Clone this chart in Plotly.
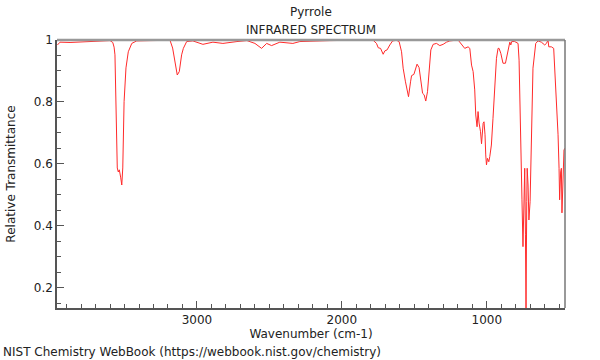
import plotly.graph_objects as go

wavenumber = [3963, 3945, 3876, 3772, 3669, 3600, 3581, 3572, 3566, 3559, 3550, 3543, 3536, 3526, 3519,
              3512, 3508, 3503, 3490, 3474, 3450, 3416, 3324, 3186, 3168, 3152, 3136, 3122, 3106, 3094,
              3071, 3028, 2959, 2890, 2821, 2724, 2655, 2600, 2554, 2519, 2485, 2428, 2338, 2290, 2200,
              2083, 1945, 1784, 1761, 1749, 1733, 1715, 1703, 1688, 1669, 1650, 1623, 1605, 1588, 1577,
              1561, 1540, 1526, 1519, 1503, 1492, 1481, 1467, 1455, 1443, 1432, 1421, 1409, 1398, 1386,
              1370, 1347, 1324, 1301, 1278, 1255, 1198, 1174, 1152, 1129, 1117, 1105, 1094, 1083, 1076,
              1067, 1060, 1053, 1043, 1036, 1030, 1025, 1019, 1012, 1007, 1002, 995, 986, 979, 968,
              957, 945, 933, 922, 915, 903, 888, 871, 853, 841, 834, 828, 807, 784, 777,
              770, 766, 757, 750, 743, 738, 733, 729, 724, 721, 715, 709, 701, 692, 681,
              662, 646, 623, 600, 588, 577, 572, 554, 538, 519, 508, 501, 497, 490, 485,
              481, 474, 467, 460]
transmittance = [0.984, 0.993, 0.992, 0.994, 0.995, 0.998, 0.992, 0.977, 0.952, 0.801, 0.587, 0.574, 0.581, 0.555, 0.532,
                 0.587, 0.694, 0.801, 0.910, 0.962, 0.989, 0.997, 0.998, 0.999, 0.974, 0.930, 0.887, 0.898, 0.952, 0.973,
                 0.995, 0.997, 0.986, 0.993, 0.989, 0.995, 0.998, 0.989, 0.973, 0.989, 0.982, 0.993, 0.989, 0.995, 0.997,
                 0.998, 0.999, 0.999, 0.989, 0.975, 0.973, 0.954, 0.965, 0.968, 0.984, 0.997, 0.999, 0.995, 0.962, 0.909,
                 0.865, 0.817, 0.865, 0.885, 0.889, 0.909, 0.922, 0.911, 0.871, 0.828, 0.823, 0.803, 0.833, 0.909, 0.968,
                 0.986, 0.989, 0.982, 0.986, 0.993, 0.997, 1.000, 0.984, 0.973, 0.978, 0.973, 0.919, 0.898, 0.839, 0.758,
                 0.720, 0.769, 0.732, 0.704, 0.665, 0.713, 0.731, 0.736, 0.694, 0.629, 0.597, 0.618, 0.607, 0.624, 0.661,
                 0.747, 0.855, 0.941, 0.973, 0.973, 0.957, 0.925, 0.925, 0.962, 0.993, 0.984, 0.995, 0.995, 0.989, 0.935,
                 0.806, 0.710, 0.484, 0.333, 0.478, 0.586, 0.371, 0.135, 0.478, 0.586, 0.532, 0.419, 0.478, 0.694, 0.909,
                 0.989, 0.997, 0.993, 0.984, 0.989, 1.000, 0.978, 0.978, 0.973, 0.801, 0.694, 0.586, 0.484, 0.574, 0.586,
                 0.442, 0.565, 0.645, 0.651]

x_range = [3966, 460]
y_range = [0.135, 1.0]
x_ticks = [3000, 2000, 1000]
y_ticks = [0.2, 0.4, 0.6, 0.8, 1.0]
y_ticklabels = ["0.2", "0.4", "0.6", "0.8", "1"]

FONT = "DejaVu Sans"

fig = go.Figure()
fig.add_trace(go.Scatter(x=wavenumber, y=transmittance, mode="lines",
                         line=dict(color="#ff2a2a", width=1), hoverinfo="skip"))

fig.update_layout(
    width=600, height=360,
    margin=dict(l=57, r=35, t=40, b=52),
    paper_bgcolor="white", plot_bgcolor="white",
    showlegend=False,
    font=dict(family=FONT, size=12, color="#222"),
    xaxis=dict(range=x_range, tickvals=x_ticks, ticks="inside", ticklen=7, tickcolor="#555",
               showline=True, linecolor="#555", linewidth=1.5, showgrid=False, zeroline=False,
               automargin=False,
               minor=dict(dtick=100, tick0=0, ticks="inside", ticklen=4, tickcolor="#555"),
               title=dict(text="Wavenumber (cm-1)", standoff=2, font=dict(size=12))),
    yaxis=dict(range=y_range, tickvals=y_ticks, ticktext=y_ticklabels, ticks="inside", ticklen=7,
               tickcolor="#555", showline=True, linecolor="#555", linewidth=1.5, showgrid=False,
               zeroline=False, automargin=False,
               minor=dict(dtick=0.05, tick0=0, ticks="inside", ticklen=4, tickcolor="#555"),
               title=dict(text="Relative Transmittance", standoff=16, font=dict(size=12))),
)

fig.add_shape(type="line", xref="paper", yref="paper", x0=0, x1=1, y0=1, y1=1,
              line=dict(color="#999", width=2.5))
fig.add_shape(type="line", xref="paper", yref="paper", x0=1, x1=1, y0=0, y1=1,
              line=dict(color="#777", width=1.5))

fig.add_annotation(text="Pyrrole", xref="paper", yref="paper", x=0.5, y=1, yshift=28,
                   showarrow=False, font=dict(size=12, family=FONT, color="#222"), yanchor="middle")
fig.add_annotation(text="INFRARED SPECTRUM", xref="paper", yref="paper", x=0.5, y=1, yshift=10,
                   showarrow=False, font=dict(size=12, family=FONT, color="#222"), yanchor="middle")
fig.add_annotation(text="NIST Chemistry WebBook (https://webbook.nist.gov/chemistry)",
                   xref="paper", yref="paper", x=0, xshift=-56, y=0, yshift=-44,
                   xanchor="left", yanchor="middle", showarrow=False,
                   font=dict(size=12, family=FONT, color="#222"))

fig.write_html("out.html", config={"displayModeBar": False},
               post_script="document.body.style.margin='0';document.body.style.overflow='hidden';")
